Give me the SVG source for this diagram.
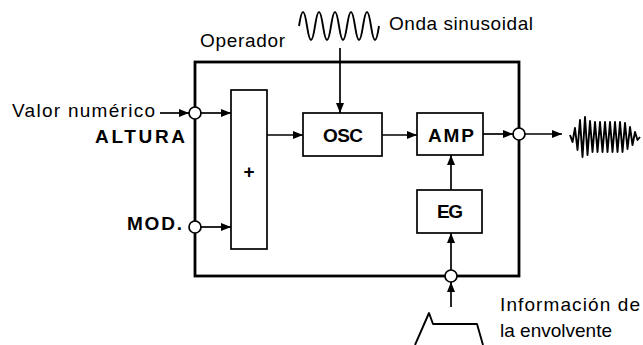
<svg xmlns="http://www.w3.org/2000/svg" width="643" height="345" viewBox="0 0 643 345">
<defs>
<marker id="ah" viewBox="0 0 10 8" refX="10" refY="4" markerWidth="11" markerHeight="8" markerUnits="userSpaceOnUse" orient="auto">
<path d="M0,0 L10,4 L0,8 Z" fill="#000"/>
</marker>
</defs>
<style>
.t{font-family:"Liberation Sans",Arial,sans-serif;font-size:19px;fill:#000}
.b{font-weight:bold;font-size:19px}
.box{fill:#fff;stroke:#000;stroke-width:1.7}
.frame{fill:none;stroke:#000;stroke-width:2.8}
.port{fill:#fff;stroke:#000;stroke-width:1.7}
.c{fill:none;stroke:#000;stroke-width:1.7}
.w{fill:none;stroke:#000;stroke-width:1.9;stroke-linejoin:round}
</style>
<rect width="643" height="345" fill="#fff"/>

<g id="operador">
<rect class="frame" x="195" y="62" width="324" height="214"/>
<text class="t" x="200" y="47" textLength="85" lengthAdjust="spacing">Operador</text>
</g>

<g id="connectors">
<line class="c" x1="160" y1="113" x2="189" y2="113" marker-end="url(#ah)"/>
<line class="c" x1="201" y1="113" x2="231" y2="113" marker-end="url(#ah)"/>
<line class="c" x1="201" y1="227" x2="231" y2="227" marker-end="url(#ah)"/>
<line class="c" x1="267" y1="135" x2="303" y2="135" marker-end="url(#ah)"/>
<line class="c" x1="340" y1="48" x2="340" y2="113" marker-end="url(#ah)"/>
<line class="c" x1="382" y1="135" x2="417" y2="135" marker-end="url(#ah)"/>
<line class="c" x1="483" y1="134" x2="513" y2="134" marker-end="url(#ah)"/>
<line class="c" x1="525" y1="134" x2="562" y2="134" marker-end="url(#ah)"/>
<line class="c" x1="451" y1="190" x2="451" y2="155" marker-end="url(#ah)"/>
<line class="c" x1="451" y1="270" x2="451" y2="233" marker-end="url(#ah)"/>
<line class="c" x1="451" y1="307" x2="451" y2="282" marker-end="url(#ah)"/>
</g>

<g id="plus">
<rect class="box" x="231" y="90" width="36" height="159"/>
<text class="t b" x="249" y="178" text-anchor="middle">+</text>
</g>

<g id="osc">
<rect class="box" x="303" y="113" width="79" height="43"/>
<text class="t b" x="343" y="142" text-anchor="middle" textLength="40" lengthAdjust="spacing">OSC</text>
</g>

<g id="amp">
<rect class="box" x="417" y="113" width="66" height="42"/>
<text class="t b" x="451" y="142" text-anchor="middle" textLength="46" lengthAdjust="spacing">AMP</text>
</g>

<g id="eg">
<rect class="box" x="417" y="190" width="65" height="43"/>
<text class="t b" x="450" y="218" text-anchor="middle" textLength="26" lengthAdjust="spacing">EG</text>
</g>

<g id="in-altura">
<circle class="port" cx="195" cy="113" r="6"/>
<text class="t" x="12" y="117" textLength="143" lengthAdjust="spacing">Valor numérico</text>
<text class="t b" x="95" y="143" textLength="90" lengthAdjust="spacing">ALTURA</text>
</g>

<g id="in-mod">
<circle class="port" cx="195" cy="227" r="6"/>
<text class="t b" x="127" y="230" textLength="55" lengthAdjust="spacing">MOD.</text>
</g>

<g id="out">
<circle class="port" cx="519" cy="134" r="6"/>
</g>

<g id="in-env">
<circle class="port" cx="451" cy="276" r="6"/>
</g>

<g id="sine">
<path class="w" d="M299,26 c2.9,-18.7 5.1,-18.7 8,0 c2.9,18.7 5.1,18.7 8,0 c2.9,-18.7 5.1,-18.7 8,0 c2.9,18.7 5.1,18.7 8,0 c2.9,-18.7 5.1,-18.7 8,0 c2.9,18.7 5.1,18.7 8,0 c2.9,-18.7 5.1,-18.7 8,0 c2.9,18.7 5.1,18.7 8,0 c2.9,-18.7 5.1,-18.7 8,0 c2.9,18.7 5.1,18.7 8,0"/>
<text class="t" x="389" y="30" textLength="144" lengthAdjust="spacing">Onda sinusoidal</text>
</g>

<g id="output-wave">
<polyline class="w" stroke-width="1.5" points="570,135 572.5,142 575,128 577.5,150 580,120 582.5,157 585,117 587.5,155 590,121 592.5,152 595,122 597.5,152 600,122 602.5,152 605,122 607.5,152 610,122 612.5,152 615,122 617.5,152 620,122 622.5,152 625,123 627.5,149 630,127 632.5,145 635,132 637.5,140 640,137"/>
</g>

<g id="envelope">
<polyline class="w" stroke-width="2.6" points="415,345 429,313 433,324 477,324 483,345"/>
<text class="t" x="500" y="311" textLength="140" lengthAdjust="spacing">Información de</text>
<text class="t" x="500" y="337" textLength="112" lengthAdjust="spacing">la envolvente</text>
</g>
</svg>
